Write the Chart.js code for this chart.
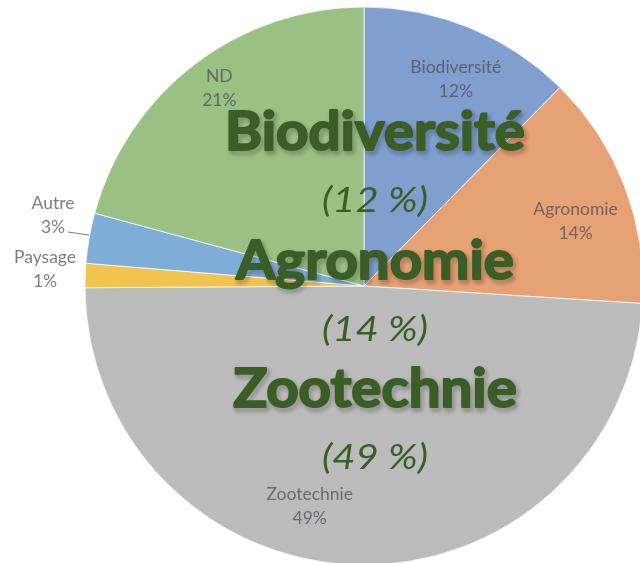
<!DOCTYPE html>
<html>
<head>
<meta charset="utf-8">
<script src="https://cdn.jsdelivr.net/npm/chart.js@4"></script>
<style>
  html, body { margin: 0; padding: 0; background: #fff; width: 640px; height: 563px; overflow: hidden; }
  #container { position: absolute; left: 0; top: 0; width: 728px; height: 572px; }
</style>
</head>
<body>
<div id="container"><canvas id="myChart"></canvas></div>
<script>
// donnees
const categories = ['Biodiversité', 'Agronomie', 'Zootechnie', 'Paysage', 'Autre', 'ND'];
const shares = [12.4, 13.6, 48.9, 1.4, 2.9, 20.8];
const sliceColors = ['#809ece', '#e6a175', '#bbbbbb', '#f1c34f', '#80acd8', '#9bc084'];

// textes en surimpression
const bigWords = ['Biodiversité', 'Agronomie', 'Zootechnie'];
const bigPercents = ['(12 %)', '(14 %)', '(49 %)'];

// decalage des etiquettes (px) par rapport au point a 80% du rayon
const labelNudge = [[7, 0], [3, 15], [-48, -3], [0, 0], [0, 0], [-9, -20]];
const outsideLabels = { 'Paysage': [45, 269.5], 'Autre': [53, 215.5] };

const total = shares.reduce((a, b) => a + b, 0);

const labelPlugin = {
    id: 'labels',
    afterDatasetsDraw(chart) {
        const ctx = chart.ctx;
        const arcs = chart.getDatasetMeta(0).data;
        ctx.save();
        ctx.font = '17.5px Lato';
        ctx.textAlign = 'center';
        ctx.fillStyle = 'rgba(75,75,85,0.72)';
        arcs.forEach((arc, i) => {
            const { x, y, startAngle, endAngle, outerRadius } = arc.getProps(['x', 'y', 'startAngle', 'endAngle', 'outerRadius'], true);
            const mid = (startAngle + endAngle) / 2;
            const name = categories[i];
            const pct = Math.round(shares[i] / total * 100) + '%';
            let cx, cy;
            if (outsideLabels[name]) {
                cx = outsideLabels[name][0];
                cy = outsideLabels[name][1];
                if (name === 'Autre') {
                    ctx.strokeStyle = 'rgba(90,90,90,0.8)';
                    ctx.lineWidth = 1;
                    ctx.beginPath();
                    ctx.moveTo(x + Math.cos(mid) * outerRadius, y + Math.sin(mid) * outerRadius - 3);
                    ctx.lineTo(cx + 15, cy - 6.5 + 23);
                    ctx.stroke();
                }
            } else {
                cx = x + Math.cos(mid) * outerRadius * 0.8 + labelNudge[i][0];
                cy = y + Math.sin(mid) * outerRadius * 0.8 + labelNudge[i][1];
            }
            const b1 = cy - 6.5;
            ctx.fillText(name, cx, b1);
            ctx.fillText(pct, cx, b1 + 24);
        });
        ctx.restore();

        // grands titres verts
        const meta = arcs[0];
        const cx = meta.x + 11;
        const cy = meta.y;
        ctx.save();
        ctx.textAlign = 'center';
        ctx.fillStyle = '#3b5e26';
        ctx.strokeStyle = '#3b5e26';
        ctx.lineJoin = 'round';
        ctx.font = '700 54px Lato';
        const sxBold = 300 / ctx.measureText(bigWords[0]).width;
        ctx.font = 'italic 35px Lato';
        const sxIt = 106 / ctx.measureText(bigPercents[0]).width;
        bigWords.forEach((w, k) => {
            const base = cy - 136 + k * 128.5;
            ctx.save();
            ctx.translate(cx, base);
            ctx.scale(sxBold, 1);
            ctx.font = '700 54px Lato';
            ctx.lineWidth = 2;
            ctx.shadowColor = 'rgba(0,0,0,0.45)';
            ctx.shadowBlur = 4;
            ctx.shadowOffsetX = 2;
            ctx.shadowOffsetY = 3;
            ctx.strokeText(w, 0, 0);
            ctx.shadowColor = 'transparent';
            ctx.fillText(w, 0, 0);
            ctx.restore();

            ctx.save();
            ctx.translate(cx, base + 62);
            ctx.scale(sxIt, 1);
            ctx.font = 'italic 35px Lato';
            ctx.fillText(bigPercents[k], 0, 0);
            ctx.restore();
        });
        ctx.restore();
    }
};

const chart = document.getElementById('myChart');
new Chart(chart, {
    type: 'pie',
    data: {
        labels: categories,
        datasets: [{
            data: shares,
            backgroundColor: sliceColors,
            borderColor: 'rgba(255,255,255,0.75)',
            borderWidth: 1
        }]
    },
    options: {
        responsive: true,
        maintainAspectRatio: false,
        animation: false,
        radius: 279,
        layout: { padding: 0 },
        plugins: {
            legend: { display: false },
            tooltip: { enabled: false }
        }
    },
    plugins: [labelPlugin]
});
</script>
</body>
</html>
